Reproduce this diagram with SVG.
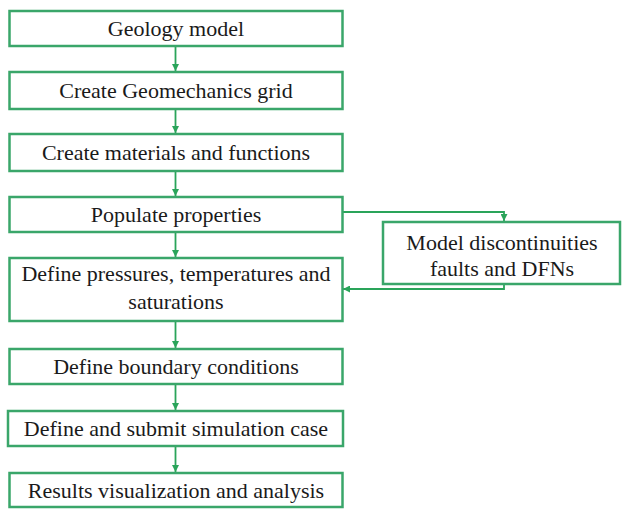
<svg xmlns="http://www.w3.org/2000/svg" width="622" height="509" viewBox="0 0 622 509">
<style>
.box{fill:#fff;stroke:#3aa66a;stroke-width:2.5}
text{font-family:'Liberation Serif','Times New Roman',serif;font-size:22px;fill:#1a1a1a;text-anchor:middle}
.c{fill:none;stroke:#2aa45a;stroke-width:1.8}
</style>
<defs>
<marker id="ah" viewBox="0 0 10 10" refX="10" refY="5" markerWidth="7" markerHeight="7" markerUnits="userSpaceOnUse" orient="auto">
<path d="M0,0 L10,5 L0,10 z" fill="#2aa45a"/>
</marker>
</defs>
<rect width="622" height="509" fill="#fff"/>
<g id="connectors">
<line class="c" x1="175.5" y1="46" x2="175.5" y2="71" marker-end="url(#ah)"/>
<line class="c" x1="175.5" y1="109" x2="175.5" y2="133" marker-end="url(#ah)"/>
<line class="c" x1="175.5" y1="171" x2="175.5" y2="196" marker-end="url(#ah)"/>
<line class="c" x1="175.5" y1="232" x2="175.5" y2="257" marker-end="url(#ah)"/>
<line class="c" x1="175.5" y1="321" x2="175.5" y2="348" marker-end="url(#ah)"/>
<line class="c" x1="175.5" y1="384" x2="175.5" y2="410" marker-end="url(#ah)"/>
<line class="c" x1="175.5" y1="446" x2="175.5" y2="472" marker-end="url(#ah)"/>
<polyline class="c" points="342,212 504,212 504,221" marker-end="url(#ah)"/>
<polyline class="c" points="504,284 504,289 343,289" marker-end="url(#ah)"/>
</g>
<g id="n1"><rect class="box" x="9.5" y="11" width="333" height="35"/><text x="176" y="36">Geology model</text></g>
<g id="n2"><rect class="box" x="9.5" y="72" width="333" height="37"/><text x="176" y="98">Create Geomechanics grid</text></g>
<g id="n3"><rect class="box" x="9.5" y="134" width="333" height="37"/><text x="176" y="160">Create materials and functions</text></g>
<g id="n4"><rect class="box" x="9.5" y="197" width="333" height="35"/><text x="176" y="222">Populate properties</text></g>
<g id="n5"><rect class="box" x="9.5" y="258" width="333" height="63"/><text x="176" y="281">Define pressures, temperatures and</text><text x="176" y="309">saturations</text></g>
<g id="n6"><rect class="box" x="383" y="222" width="237" height="62"/><text x="502" y="250">Model discontinuities</text><text x="502" y="276">faults and DFNs</text></g>
<g id="n7"><rect class="box" x="9.5" y="349" width="333" height="35"/><text x="176" y="374">Define boundary conditions</text></g>
<g id="n8"><rect class="box" x="8" y="411" width="335" height="35"/><text x="176" y="436">Define and submit simulation case</text></g>
<g id="n9"><rect class="box" x="9.5" y="473" width="333" height="34"/><text x="176" y="498">Results visualization and analysis</text></g>
</svg>
